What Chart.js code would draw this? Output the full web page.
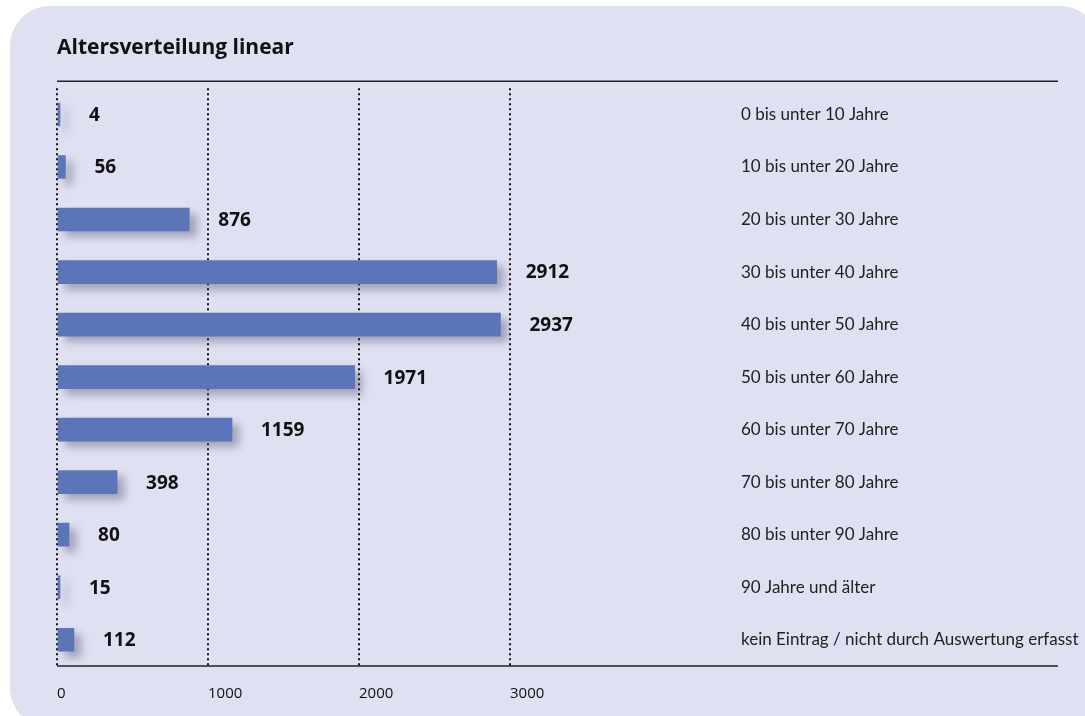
<!DOCTYPE html>
<html>
<head>
<meta charset="utf-8">
<script src="https://cdn.jsdelivr.net/npm/chart.js@4.4.1/dist/chart.umd.min.js"></script>
<style>
  html, body { margin: 0; padding: 0; background: #fff; width: 1085px; height: 716px; overflow: hidden; }
  #panel { position: absolute; left: 10px; top: 6px; width: 1090px; height: 722px; background: #dfe0f1; border-radius: 40px; }
  #chart { position: absolute; left: 0; top: 0; }
</style>
</head>
<body>
<div id="panel"></div>
<canvas id="chart" width="1085" height="716"></canvas>
<script>
const chartTitle = 'Altersverteilung linear';
const categories = [
  '0 bis unter 10 Jahre',
  '10 bis unter 20 Jahre',
  '20 bis unter 30 Jahre',
  '30 bis unter 40 Jahre',
  '40 bis unter 50 Jahre',
  '50 bis unter 60 Jahre',
  '60 bis unter 70 Jahre',
  '70 bis unter 80 Jahre',
  '80 bis unter 90 Jahre',
  '90 Jahre und älter',
  'kein Eintrag / nicht durch Auswertung erfasst'
];
const counts = [4, 56, 876, 2912, 2937, 1971, 1159, 398, 80, 15, 112];
const xTicks = [0, 1000, 2000, 3000];

const barColor = '#5c75b9';

// soft shadow behind the bars, then the value labels
const barShadow = {
  id: 'barShadow',
  beforeDatasetsDraw(chart) {
    const ctx = chart.ctx;
    ctx.save();
    ctx.shadowColor = 'rgba(70, 70, 100, 0.4)';
    ctx.shadowBlur = 8;
    ctx.shadowOffsetX = 7;
    ctx.shadowOffsetY = 6;
  },
  afterDatasetsDraw(chart) {
    const ctx = chart.ctx;
    ctx.restore();

    const meta = chart.getDatasetMeta(0);
    ctx.save();
    ctx.font = 'bold 19px "Open Sans", sans-serif';
    ctx.fillStyle = '#111';
    ctx.textAlign = 'left';
    ctx.textBaseline = 'middle';
    meta.data.forEach((bar, i) => {
      ctx.fillText(String(counts[i]), bar.x + 29, bar.y + 1);
    });
    ctx.restore();
  }
};

// top and bottom rules running across the full width
const rules = {
  id: 'rules',
  afterDraw(chart) {
    const { ctx, chartArea } = chart;
    ctx.save();
    ctx.strokeStyle = '#222';
    ctx.lineWidth = 1.5;
    ctx.beginPath();
    ctx.moveTo(chartArea.left, chartArea.top - 7);
    ctx.lineTo(chart.width - 27, chartArea.top - 7);
    ctx.moveTo(chartArea.left, chartArea.bottom);
    ctx.lineTo(chart.width - 27, chartArea.bottom);
    ctx.stroke();
    ctx.restore();
  }
};

new Chart(document.getElementById('chart'), {
  type: 'bar',
  data: {
    labels: categories,
    datasets: [{
      data: counts,
      backgroundColor: barColor,
      borderWidth: 0,
      barThickness: 23,
      minBarLength: 3
    }]
  },
  options: {
    indexAxis: 'y',
    responsive: false,
    animation: false,
    layout: { padding: { left: 57, right: 0, top: 20, bottom: 12 } },
    plugins: {
      legend: { display: false },
      tooltip: { enabled: false },
      title: {
        display: true,
        text: chartTitle,
        align: 'start',
        color: '#111',
        font: { family: '"Open Sans", sans-serif', size: 21, weight: 'bold' },
        padding: { top: 15, bottom: 28 }
      }
    },
    scales: {
      x: {
        min: 0,
        max: 3000,
        z: 1,
        afterBuildTicks(scale) {
          scale.ticks = xTicks.map(v => ({ value: v }));
        },
        afterFit(scale) {
          scale.height = 38;
        },
        grid: {
          color: '#111',
          lineWidth: 2,
          drawTicks: false,
          tickBorderDash: [2, 3]
        },
        border: { display: false, dash: [2, 3] },
        ticks: {
          align: 'start',
          padding: 19,
          color: '#111',
          font: { family: '"Open Sans", sans-serif', size: 15 },
          callback: v => String(v)
        }
      },
      y: {
        position: 'right',
        grid: { display: false, drawTicks: false },
        border: { display: false },
        afterFit(scale) {
          scale.width = 575;
          scale.paddingTop = 0;
          scale.paddingBottom = 0;
        },
        ticks: {
          padding: 231,
          color: '#222',
          font: { family: 'Lato, sans-serif', size: 17 }
        }
      }
    }
  },
  plugins: [barShadow, rules]
});
</script>
</body>
</html>
